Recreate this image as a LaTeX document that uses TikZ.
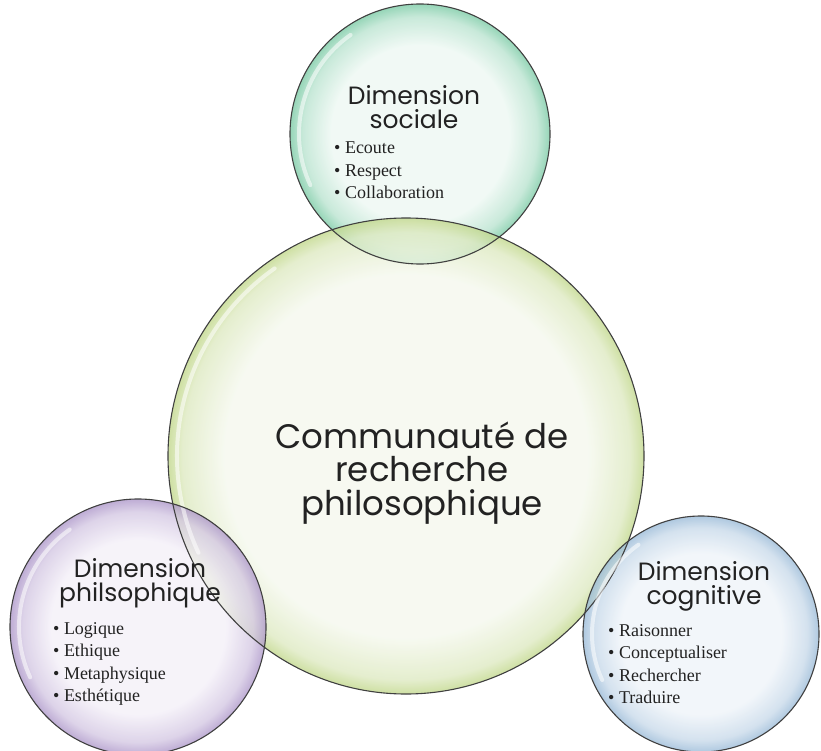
\documentclass[tikz,border=0pt]{standalone}
\usepackage{fontspec}
\setmainfont{Liberation Serif}
\newfontfamily\handfont{Poppins}
\usepackage{tikz}
\usetikzlibrary{positioning}

\definecolor{socin}{HTML}{EEF8F3}
\definecolor{socout}{HTML}{7CCBA6}
\definecolor{crpin}{HTML}{F5F8EE}
\definecolor{crpout}{HTML}{C2D88C}
\definecolor{phiin}{HTML}{F4F0F8}
\definecolor{phiout}{HTML}{AE98CA}
\definecolor{cogin}{HTML}{EFF4F9}
\definecolor{cogout}{HTML}{9BBBD8}
\definecolor{inktext}{HTML}{222222}

% edge of the circle sits at 25bp
\pgfdeclareradialshading{socshade}{\pgfpoint{0bp}{0bp}}{color(0bp)=(socin); color(17bp)=(socin); color(22.5bp)=(socout!45!socin); color(25bp)=(socout); color(50bp)=(socout)}
\pgfdeclareradialshading{crpshade}{\pgfpoint{0bp}{0bp}}{color(0bp)=(crpin); color(19bp)=(crpin); color(23.5bp)=(crpout!45!crpin); color(25bp)=(crpout); color(50bp)=(crpout)}
\pgfdeclareradialshading{phishade}{\pgfpoint{0bp}{0bp}}{color(0bp)=(phiin); color(17bp)=(phiin); color(22.5bp)=(phiout!45!phiin); color(25bp)=(phiout); color(50bp)=(phiout)}
\pgfdeclareradialshading{cogshade}{\pgfpoint{0bp}{0bp}}{color(0bp)=(cogin); color(17bp)=(cogin); color(22.5bp)=(cogout!45!cogin); color(25bp)=(cogout); color(50bp)=(cogout)}

\begin{document}
\begin{tikzpicture}[x=1pt,y=-1pt,
  bubble/.style n args={2}{circle,minimum size=#1,inner sep=0pt,shading=#2,fill opacity=0.8},
  rim/.style={draw=black!75,line width=1.1pt},
  gloss/.style={draw=white,line width=4pt,line cap=round,opacity=0.55},
  ttl/.style={font=\handfont\fontsize{25}{24}\selectfont,align=center,text=inktext,inner sep=0pt},
  lst/.style={font=\fontsize{18}{22.5}\selectfont,align=left,anchor=north west,inner sep=0pt,text=inktext}]
\useasboundingbox (0,0) rectangle (821,751);
% bubbles
\node[bubble={260pt}{socshade}] (soc) at (420,134) {};
\node[bubble={476pt}{crpshade}] (crp) at (406,456) {};
\node[bubble={256pt}{phishade}] (phi) at (138,627) {};
\node[bubble={236pt}{cogshade}] (cog) at (701,634) {};
\foreach \n/\r in {soc/130,crp/238,phi/128,cog/118} {
   \pgfmathsetmacro\g{\r-9}
   \draw[gloss] (\n.center) ++(205:\g pt) arc (205:125:\g pt);
   \draw[rim] (\n.center) circle (\r pt);
}
% texts
\node[font=\handfont\fontsize{34}{33.5}\selectfont,align=center,text=inktext] (crptxt) at (422,473) {Communauté de\\recherche\\philosophique};
\node[ttl] (soctitle) at (414,107) {Dimension\\sociale};
\node[lst] (soclist) at (334,142) {\textbullet\ Ecoute\\\textbullet\ Respect\\\textbullet\ Collaboration};
\node[ttl] (phititle) at (140,583) {Dimension\\philsophique};
\node[lst] (philist) at (53,622) {\textbullet\ Logique\\\textbullet\ Ethique\\\textbullet\ Metaphysique\\\textbullet\ Esthétique};
\node[ttl] (cogtitle) at (704,586) {Dimension\\cognitive};
\node[lst] (coglist) at (608,624) {\textbullet\ Raisonner\\\textbullet\ Conceptualiser\\\textbullet\ Rechercher\\\textbullet\ Traduire};
\end{tikzpicture}
\end{document}
